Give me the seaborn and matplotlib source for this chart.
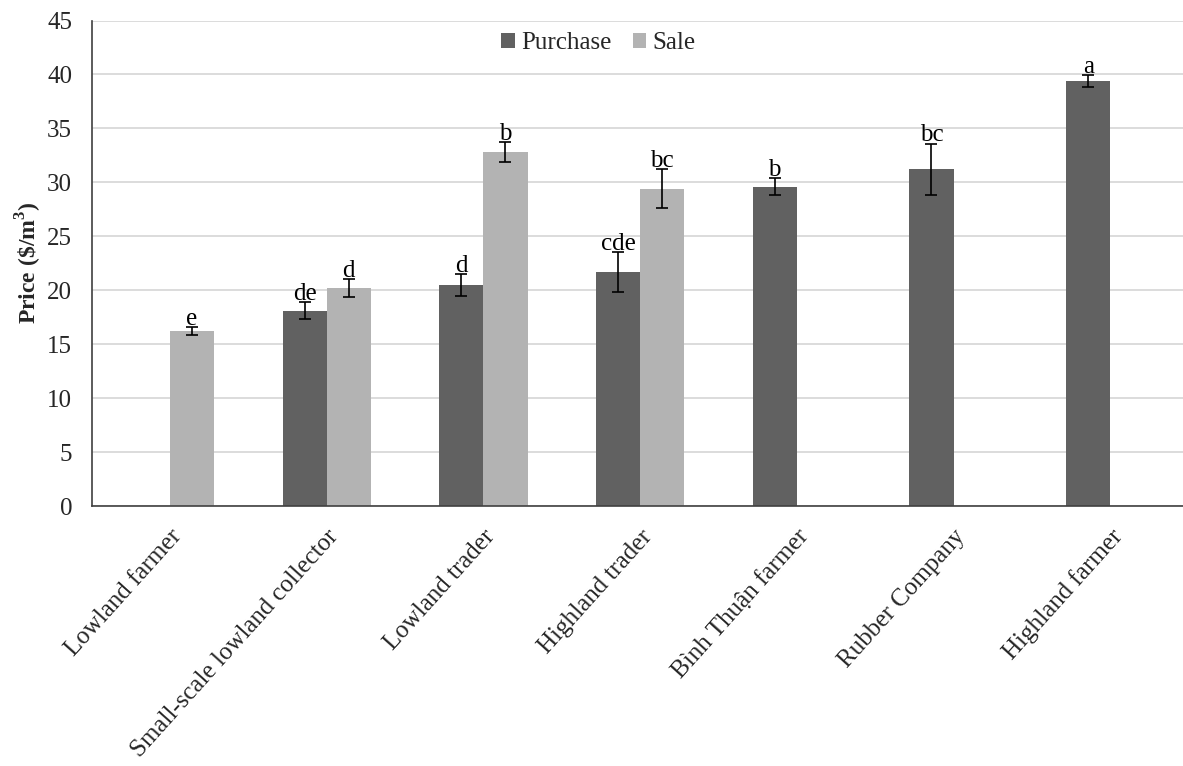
import numpy as np
import pandas as pd
import matplotlib
matplotlib.use("Agg")
import matplotlib.pyplot as plt
import seaborn as sns

categories = ["Lowland farmer", "Small-scale lowland collector", "Lowland trader",
              "Highland trader", "Bình Thuận farmer", "Rubber Company", "Highland farmer"]
series = ["Purchase", "Sale"]
purchase = [np.nan, 18.1, 20.5, 21.7, 29.6, 31.2, 39.4]
purchase_err = [np.nan, 0.8, 1.0, 1.85, 0.8, 2.4, 0.55]
purchase_letters = ["", "de", "d", "cde", "b", "bc", "a"]
sale = [16.2, 20.2, 32.8, 29.4, np.nan, np.nan, np.nan]
sale_err = [0.35, 0.8, 0.9, 1.8, np.nan, np.nan, np.nan]
sale_letters = ["e", "d", "b", "bc", "", "", ""]
yticks = [0, 5, 10, 15, 20, 25, 30, 35, 40, 45]

sns.set_style("white")
plt.rcParams["font.family"] = ["Liberation Serif", "DejaVu Serif"]
plt.rcParams["mathtext.fontset"] = "custom"
plt.rcParams["mathtext.rm"] = "Liberation Serif"
plt.rcParams["mathtext.bf"] = "Liberation Serif:bold"

rows = []
for s, vals, errs, lets in [("Purchase", purchase, purchase_err, purchase_letters),
                            ("Sale", sale, sale_err, sale_letters)]:
    for c, v, e, l in zip(categories, vals, errs, lets):
        if not np.isnan(v):
            rows.append({"category": c, "type": s, "price": v, "err": e, "letter": l})
df = pd.DataFrame(rows)

fig = plt.figure(figsize=(11.83, 7.66), dpi=100)
ax = fig.add_axes([0.0775, 0.3394, 0.9272, 0.6338])

colors = {"Purchase": "#616161", "Sale": "#b3b3b3"}
sns.barplot(data=df, x="category", y="price", hue="type", order=categories,
            hue_order=series, palette=colors, width=0.563, errorbar=None,
            saturation=1, linewidth=0, ax=ax)

# error bars and letters
lookup = {(r.type, r.category): r for r in df.itertuples()}
for s, cont in zip(series, ax.containers):
    for bar in cont:
        h = bar.get_height()
        if h is None or np.isnan(h):
            continue
        xc = bar.get_x() + bar.get_width() / 2
        idx = int(round(xc))
        r = lookup.get((s, categories[idx]))
        if r is None:
            continue
        ax.errorbar(xc, r.price, yerr=r.err, fmt="none", ecolor="black",
                    elinewidth=1.2, capsize=4, capthick=1.2, zorder=3)
        ax.text(xc, r.price + r.err + 0.22, r.letter, ha="center", va="baseline",
                fontsize=18, color="black", zorder=4)

ax.set_xlim(-0.5, 6.5)
ax.set_ylim(0, 45)
ax.set_yticks(yticks)
ax.set_yticklabels([str(t) for t in yticks], fontsize=18)
ax.yaxis.grid(True, color="#d9d9d9", linewidth=1.3)
ax.xaxis.grid(False)
ax.set_axisbelow(True)

ax.set_xticks(range(len(categories)))
ax.set_xticklabels(categories, rotation=48, ha="right", rotation_mode="anchor",
                   fontsize=18)
ax.set_xticks(np.arange(-0.5, len(categories), 1), minor=True)
ax.tick_params(axis="x", which="major", length=0, pad=14)
ax.tick_params(axis="x", which="minor", length=7, width=1.2, color="#404040", direction="out")
ax.tick_params(axis="y", length=6, width=1.2, color="#404040", direction="out", pad=8)

for sp in ["top", "right"]:
    ax.spines[sp].set_visible(False)
for sp in ["left", "bottom"]:
    ax.spines[sp].set_color("#404040")
    ax.spines[sp].set_linewidth(1.2)

ax.set_xlabel("")
ax.set_ylabel(r"Price (\$/m$^{\mathbf{3}}$)", fontsize=17, fontweight="bold", labelpad=2)

sns.move_legend(ax, "center", bbox_to_anchor=(0.462, 0.953), ncol=2, frameon=False,
                title=None, fontsize=18, handlelength=0.55, handleheight=0.55,
                handletextpad=0.25, columnspacing=0.85)

fig.savefig("out.png", dpi=100)
